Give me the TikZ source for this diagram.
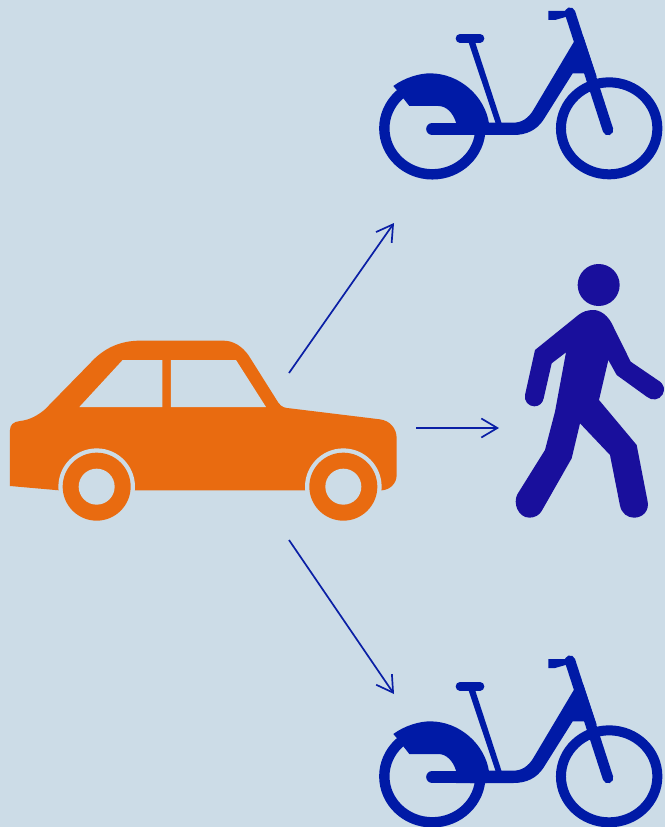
\documentclass[tikz,border=0pt]{standalone}
\usetikzlibrary{arrows.meta}
\definecolor{bgc}{HTML}{CCDCE7}
\definecolor{bikec}{HTML}{001AA6}
\definecolor{walkc}{HTML}{190F9C}
\definecolor{carc}{HTML}{E96B10}
\definecolor{arrowc}{HTML}{0A1FA5}
\tikzset{
  link/.style={draw=arrowc,line width=1.7pt,-{Straight Barb[length=16pt,width=19pt,line width=1.7pt]}},
  bikepic/.pic={
    \begin{scope}[x=1pt/3,y=-1pt/3]
      \draw[bikec,line width=10.4pt] (187,385) circle[x radius=48pt,y radius=46pt];
      \draw[bikec,line width=10pt] (717.5,385) circle[x radius=48.2pt,y radius=46pt];
      \fill[bikec] (535,33)--(585,33)--(590,50)--(555,60)--(535,60)--cycle;
      \draw[bikec,line width=10.6pt,line cap=round] (600,38)--(714,390);
      \fill[bikec] (612,125) -- (490,330) .. controls (475,355) and (455,368) .. (430,368)
        -- (300,368) -- (300,405) -- (430,405) .. controls (470,405) and (500,390) .. (520,360)
        -- (608,220) -- (645,220) -- (680,230) -- (640,110) -- cycle;
      \fill[bikec] (295,125)--(315,125)--(395,370)--(377,370)--cycle;
      \draw[bikec,line width=8.7pt,line cap=round] (270,115)--(330,115);
      \draw[bikec,line width=12.3pt,line cap=round] (187,387)--(430,387);
      \fill[bikec] (70,258) .. controls (105,232) and (150,220) .. (180,220)
        .. controls (270,220) and (345,290) .. (357,370) -- (350,405) -- (258,405) -- (258,368)
        .. controls (250,340) and (230,318) .. (205,318) -- (118,318) -- (100,295)
        -- (82,272) -- cycle;
    \end{scope}
  }
}
\begin{document}
\begin{tikzpicture}[x=1pt,y=-1pt]
  \fill[bgc] (0,0) rectangle (665,827);
  \useasboundingbox (0,0) rectangle (665,827);
  % car
  \begin{scope}[shift={(0,330)},x=1pt/3,y=-1pt/3]
    \fill[carc] (30,300) .. controls (30,285) and (40,275) .. (60,273)
      .. controls (90,270) and (115,255) .. (135,238) -- (270,100)
      .. controls (310,55) and (360,32) .. (420,32) -- (670,32)
      .. controls (700,32) and (725,48) .. (745,75) -- (835,218)
      .. controls (845,232) and (855,234) .. (870,235) -- (1140,268)
      .. controls (1170,272) and (1190,295) .. (1190,325) -- (1190,435)
      .. controls (1190,460) and (1170,480) .. (1145,481)
      -- (177,481) -- (30,468) -- cycle;
    \fill[bgc] (238,231)--(368,90)--(487,90)--(487,231)--cycle;
    \fill[bgc] (513,90)--(708,90)--(798,231)--(513,231)--cycle;
    \fill[bgc] (290,470) circle[radius=38.3pt];
    \fill[bgc] (1030,470) circle[radius=38.3pt];
    \fill[carc] (290,470) circle[radius=34pt];
    \fill[carc] (1030,470) circle[radius=34pt];
    \fill[bgc] (290,470) circle[radius=18pt];
    \fill[bgc] (1030,470) circle[radius=18pt];
  \end{scope}
  % bikes
  \pic at (370,0) {bikepic};
  \pic at (370,648) {bikepic};
  % pedestrian
  \begin{scope}[shift={(500,255)},x=1pt/3,y=-1pt/3]
    \fill[walkc] (296,90) circle[radius=21pt];
    \fill[walkc] (280,165) .. controls (262,165) and (248,170) .. (235,180) -- (105,285)
      -- (75,420) .. controls (72,438) and (85,454) .. (103,454)
      .. controls (118,454) and (128,444) .. (131,430) -- (155,325) -- (198,292)
      -- (165,470) -- (135,585) -- (52,718)
      .. controls (38,745) and (55,788) .. (88,788)
      .. controls (105,788) and (118,780) .. (125,768)
      -- (215,610) -- (240,505) -- (330,600) -- (360,752)
      .. controls (365,775) and (382,788) .. (402,788)
      .. controls (428,788) and (448,768) .. (443,740)
      -- (410,570) -- (297,435) -- (325,315) -- (350,360) -- (440,425)
      .. controls (455,438) and (478,436) .. (488,418)
      .. controls (497,402) and (490,388) .. (480,380)
      -- (392,320) -- (340,215) .. controls (325,180) and (300,165) .. (280,165) -- cycle;
  \end{scope}
  % connectors
  \coordinate (carA) at (289,373);
  \coordinate (carB) at (416,428);
  \coordinate (carC) at (289,540);
  \coordinate (bikeA) at (394,223);
  \coordinate (walkB) at (499,428);
  \coordinate (bikeC) at (394,694);
  \draw[link] (carA) -- (bikeA);
  \draw[link] (carB) -- (walkB);
  \draw[link] (carC) -- (bikeC);
\end{tikzpicture}
\end{document}
